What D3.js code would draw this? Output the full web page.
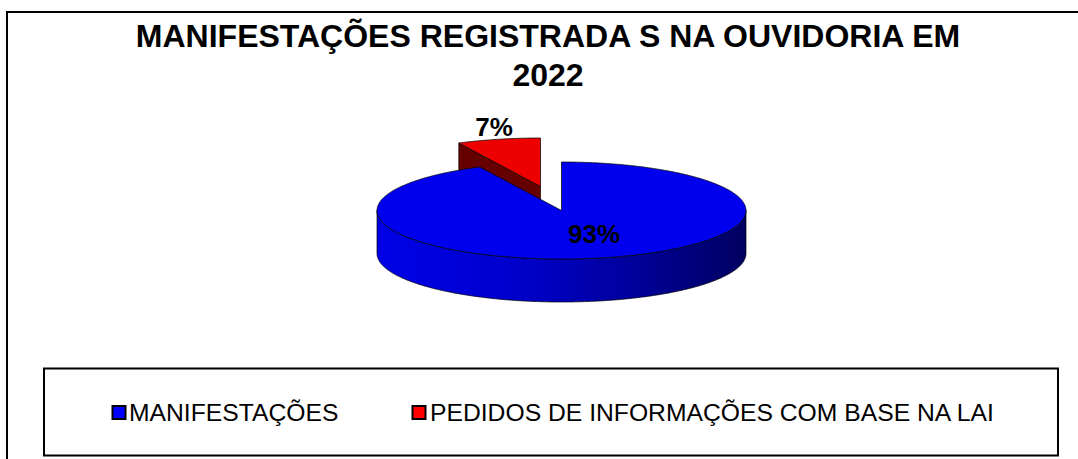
<!DOCTYPE html>
<html><head><meta charset="utf-8">
<script src="https://cdn.jsdelivr.net/npm/d3@7"></script>
<style>html,body{margin:0;padding:0;background:#fff}svg{display:block}text{font-family:"Liberation Sans",Arial,sans-serif;fill:#000}</style>
</head><body><svg id="c" width="1078" height="459"></svg>
<script>
const categories = ["MANIFESTAÇÕES", "PEDIDOS DE INFORMAÇÕES COM BASE NA LAI"];
const values = [92.7, 7.3];
const labels = ["93%", "7%"];
const topColors = ["#0000ee", "#ee0000"];
const swatchColors = ["#0000ff", "#ff0000"];
const titleLines = ["MANIFESTAÇÕES REGISTRADA S NA OUVIDORIA EM", "2022"];

const svg = d3.select("#c");
const defs = svg.append("defs");
const grad = defs.append("linearGradient").attr("id","wall").attr("x1","0").attr("x2","1").attr("y1","0").attr("y2","0");
[[0,"#0000e6"],[0.35,"#0000d0"],[0.7,"#00009a"],[1,"#000060"]].forEach(([o,c])=>grad.append("stop").attr("offset",o).attr("stop-color",c));

svg.append("path").attr("d","M7,1000V12H1078").attr("fill","none").attr("stroke","#000").attr("stroke-width",2);
svg.append("rect").attr("x",44).attr("y",368.5).attr("width",1014).attr("height",87).attr("fill","#fff").attr("stroke","#000").attr("stroke-width",2);

svg.selectAll("text.title").data(titleLines).join("text").attr("class","title")
 .attr("x",548).attr("y",(d,i)=>47+i*39).attr("text-anchor","middle")
 .attr("font-size",32).attr("font-weight","bold").text(d=>d);

const rx=184.5, ry=48.5, depth=43;
const pie=d3.pie().sort(null)(values);
const cxs=[561.5,540.5], cys=[210.5,186.5];
const line=d3.line();
function P(i,a,dz=0){return [cxs[i]+rx*Math.sin(a), cys[i]-ry*Math.cos(a)+dz];}
function arcPts(i,a0,a1,dz=0){const n=Math.max(2,Math.ceil(Math.abs(a1-a0)/0.01));return d3.range(n+1).map(k=>P(i,a0+(a1-a0)*k/n,dz));}

const r=pie[1], b=pie[0];
const rApex=[cxs[1],cys[1]];
svg.append("path").attr("d",line([rApex,P(1,r.startAngle),P(1,r.startAngle,depth),[rApex[0],rApex[1]+depth]])+"Z")
 .attr("fill","#660000").attr("stroke","#000").attr("stroke-width",.7);
svg.append("path").attr("d",line([rApex,...arcPts(1,r.startAngle,r.endAngle)])+"Z")
 .attr("fill",topColors[1]).attr("stroke","#000").attr("stroke-width",.7);

const front=arcPts(0,Math.PI/2,Math.PI*1.5);
const frontLow=arcPts(0,Math.PI*1.5,Math.PI/2,depth);
svg.append("path").attr("d",line([...front,...frontLow])+"Z").attr("fill","url(#wall)").attr("stroke","#000").attr("stroke-width",.7);
svg.append("path").attr("d",line([[cxs[0],cys[0]],...arcPts(0,b.startAngle,b.endAngle)])+"Z")
 .attr("fill",topColors[0]).attr("stroke","#000").attr("stroke-width",.7);

svg.append("text").attr("x",594).attr("y",243).attr("text-anchor","middle").attr("font-size",26).attr("font-weight","bold").text(labels[0]);
svg.append("text").attr("x",494).attr("y",136).attr("text-anchor","middle").attr("font-size",26).attr("font-weight","bold").text(labels[1]);

const lx=[112.5,412.5], tx=[129,430];
const leg=svg.selectAll("g.leg").data(categories).join("g").attr("class","leg");
leg.append("rect").attr("x",(d,i)=>lx[i]).attr("y",406).attr("width",13).attr("height",13).attr("fill",(d,i)=>swatchColors[i]).attr("stroke","#000").attr("stroke-width",2);
leg.append("text").attr("x",(d,i)=>tx[i]).attr("y",421).attr("font-size",24.7).text(d=>d);
</script></body></html>
